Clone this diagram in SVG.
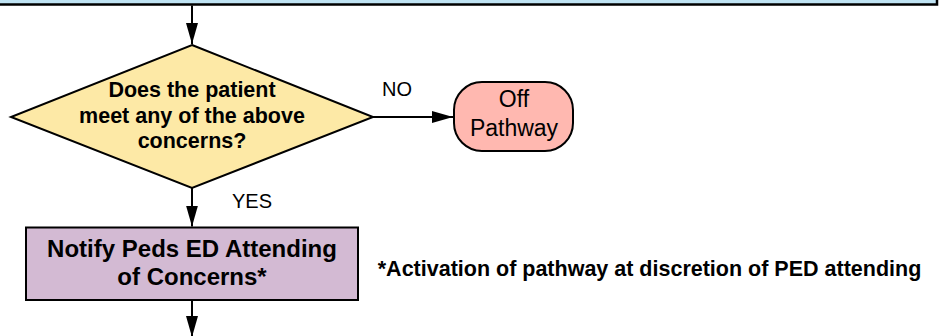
<svg xmlns="http://www.w3.org/2000/svg" width="939" height="336" viewBox="0 0 939 336">
<defs>
<style>
.t{font-family:"Liberation Sans",Arial,sans-serif;fill:#000;text-anchor:middle}
.b{font-weight:bold}
.ln{stroke:#000;stroke-width:2;fill:none}
</style>
<marker id="ah" viewBox="0 0 21 12" refX="21" refY="6" markerWidth="21" markerHeight="12" markerUnits="userSpaceOnUse" orient="auto">
<path d="M0,0 L21,6 L0,12 Z" fill="#000"/>
</marker>
</defs>
<rect width="939" height="336" fill="#fff"/>
<g id="top-node">
<rect x="-5" y="-20" width="942" height="24.5" fill="#bfe3f3" stroke="#000" stroke-width="2.5"/>
</g>
<g id="connectors">
<line class="ln" x1="192" y1="5.5" x2="192" y2="44" marker-end="url(#ah)"/>
<line class="ln" x1="373" y1="117" x2="453" y2="117" marker-end="url(#ah)"/>
<line class="ln" x1="192" y1="188" x2="192" y2="226.5" marker-end="url(#ah)"/>
<line class="ln" x1="192" y1="300" x2="192" y2="337" marker-end="url(#ah)"/>
<text class="t" x="397" y="96" font-size="20">NO</text>
<text class="t" x="252" y="208" font-size="20">YES</text>
</g>
<g id="decision">
<polygon points="192,45 373,117 192,188 11,117" fill="#fde9a6" stroke="#000" stroke-width="2"/>
<text class="t b" font-size="21.5"><tspan x="192" y="97">Does the patient</tspan><tspan x="192" y="122.5">meet any of the above</tspan><tspan x="192" y="148">concerns?</tspan></text>
</g>
<g id="off-pathway">
<rect x="454" y="82" width="119" height="69" rx="28" ry="28" fill="#ffb8b0" stroke="#000" stroke-width="2"/>
<text class="t" font-size="23"><tspan x="514" y="107">Off</tspan><tspan x="514" y="136">Pathway</tspan></text>
</g>
<g id="notify">
<rect x="26" y="227.5" width="332" height="72.5" fill="#d3bad3" stroke="#000" stroke-width="2"/>
<text class="t b" font-size="24"><tspan x="192" y="257">Notify Peds ED Attending</tspan><tspan x="192" y="285">of Concerns*</tspan></text>
</g>
<g id="footnote">
<text class="t b" x="649.5" y="276" font-size="21.5">*Activation of pathway at discretion of PED attending</text>
</g>
</svg>
